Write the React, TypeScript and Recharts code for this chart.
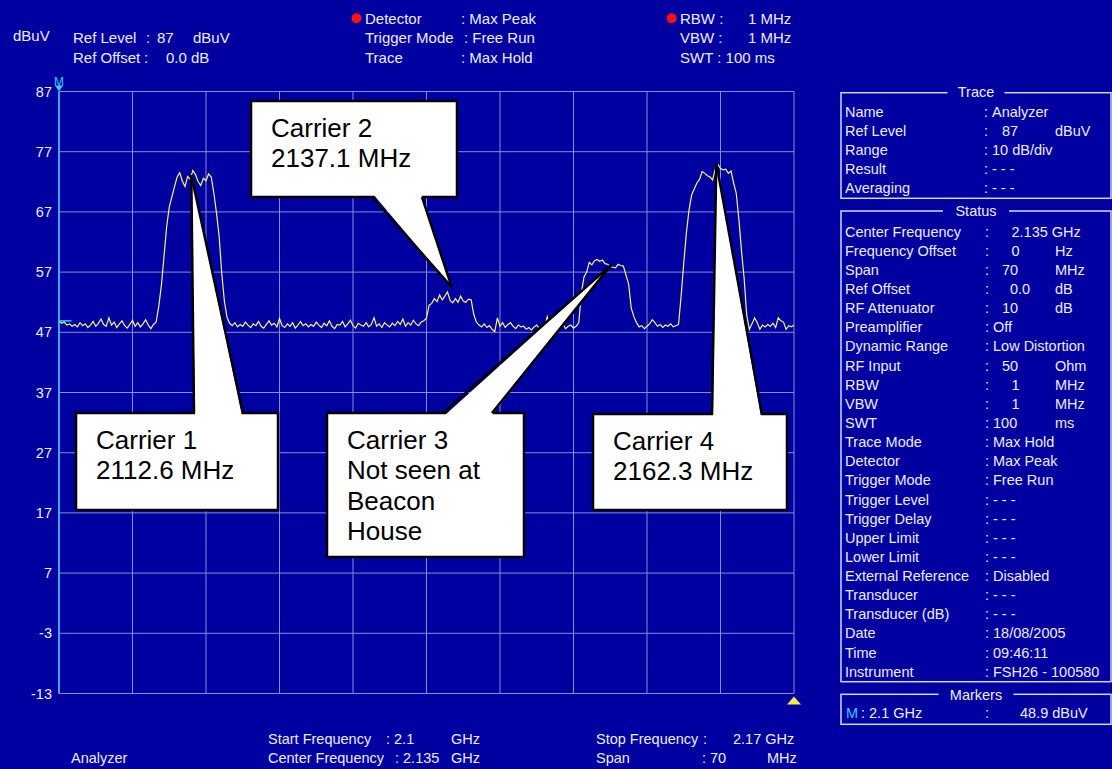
import React from "react";
import { LineChart, Line, XAxis, YAxis, CartesianGrid, ReferenceLine, ReferenceDot } from "recharts";

// Max-hold trace, 0.25 MHz per point from 2100 to 2170 MHz (dBuV)
const levelsDbuv = [
  48.9, 48.5, 48.7, 48.2, 48.4, 48.0, 48.3, 47.9, 48.6, 48.1,
  48.4, 47.8, 48.2, 48.8, 48.0, 48.5, 49.2, 48.3, 48.0, 49.4,
  48.2, 48.7, 47.8, 48.4, 48.9, 48.1, 47.7, 48.3, 49.0, 48.0,
  48.6, 47.9, 48.4, 49.1, 48.2, 47.6, 48.3,
  // carrier 1
  48.7, 51.3, 54.8, 59.6, 64.5, 67.8, 69.5, 71.2, 72.8, 73.5,
  72.1, 71.2, 72.9, 72.4, 73.9, 73.2, 72.0, 71.4, 72.6, 72.2,
  73.3, 72.8, 70.1, 66.8, 63.0, 56.8, 52.2, 49.5, 48.5, 48.1,
  // noise
  48.6, 47.9, 48.3, 48.0, 48.7, 48.2, 47.8, 48.4, 48.1, 48.8,
  48.0, 47.7, 48.3, 48.9, 48.2, 48.5, 47.9, 49.3, 48.1, 47.8,
  48.4, 48.0, 48.6, 47.7, 48.2, 48.8, 48.1, 48.4, 47.9, 48.3,
  48.0, 48.7, 48.2, 47.8, 48.5, 48.1, 48.9, 48.0, 47.6, 48.3,
  48.2, 48.8, 47.9, 48.4, 49.0, 48.1, 47.7, 48.5, 48.2, 48.0,
  48.6, 47.9, 48.3, 49.4, 48.0, 48.4, 47.8, 48.6, 48.2, 47.9,
  48.5, 48.1, 48.8, 48.3, 49.2, 48.0, 48.6, 48.2, 49.0, 48.4,
  48.1, 48.7, 48.9,
  // carrier 2
  49.4, 51.5, 51.8, 52.6, 52.1, 53.2, 52.4, 53.0, 53.7, 52.3,
  51.9, 52.6, 52.0, 53.0, 52.2, 52.0, 52.5, 52.4, 50.0, 48.7,
  // noise
  48.2, 47.9, 48.4, 47.8, 48.1, 47.5, 47.1, 49.4, 48.0, 48.6,
  47.8, 48.3, 48.6, 48.0, 47.6, 48.2, 47.9, 48.0, 47.5, 47.8,
  47.4, 47.9, 48.2, 47.6, 48.0, 47.7, 49.6, 48.1, 48.5, 47.9,
  48.4, 47.8, 48.3, 47.6, 48.0, 48.2, 47.7, 48.0,
  // carrier at 2152 MHz
  48.6, 53.5, 56.2, 57.0, 58.6, 58.2, 58.9, 59.1, 58.8, 59.0,
  58.4, 58.3, 57.9, 57.8, 57.7, 58.3, 58.1, 58.0, 56.5, 55.0,
  51.0, 49.6, 48.6, 47.9, 48.1, 47.6, 48.0, 48.4, 49.1,
  // noise
  48.6, 48.0, 48.3, 47.8, 48.2, 48.0, 48.4, 47.9, 48.1,
  // carrier 4
  48.3, 53.0, 58.5, 63.5, 67.3, 69.8, 70.8, 71.8, 72.4, 73.7,
  73.4, 73.0, 72.8, 72.3, 74.1, 74.9, 74.2, 74.0, 74.1, 73.4,
  73.8, 71.8, 70.1, 65.8, 60.5, 56.0, 49.8, 47.5,
  // noise
  48.4, 49.4, 48.6, 47.5, 48.2, 47.9, 48.3, 48.0, 48.5, 47.8,
  49.4, 48.9, 48.7, 47.5, 48.1, 47.9, 48.2,
];
const freqMHz = levelsDbuv.map((_, i) => 2100 + i * 0.25);
const data = freqMHz.map((f, i) => ({ f, v: levelsDbuv[i] }));

const yTicks = [87, 77, 67, 57, 47, 37, 27, 17, 7, -3, -13];
const xTicks = [2100, 2107, 2114, 2121, 2128, 2135, 2142, 2149, 2156, 2163, 2170];

// callouts: text + the point they point at (MHz, dBuV)
const calloutText = [
  ["Carrier 1", "2112.6 MHz"],
  ["Carrier 2", "2137.1 MHz"],
  ["Carrier 3", "Not seen at", "Beacon", "House"],
  ["Carrier 4", "2162.3 MHz"],
];
const calloutFreq = [2112.6, 2137.4, 2152.6, 2162.6];
const calloutLevel = [73.1, 54.5, 58.2, 75.1];

const traceRows = [
  ["Name", "Analyzer", ""],
  ["Ref Level", "87", "dBuV"],
  ["Range", "10 dB/div", ""],
  ["Result", "- - -", ""],
  ["Averaging", "- - -", ""],
];
const statusRows = [
  ["Center Frequency", "2.135 GHz", ""],
  ["Frequency Offset", "0", "Hz"],
  ["Span", "70", "MHz"],
  ["Ref Offset", "0.0", "dB"],
  ["RF Attenuator", "10", "dB"],
  ["Preamplifier", "Off", ""],
  ["Dynamic Range", "Low Distortion", ""],
  ["RF Input", "50", "Ohm"],
  ["RBW", "1", "MHz"],
  ["VBW", "1", "MHz"],
  ["SWT", "100", "ms"],
  ["Trace Mode", "Max Hold", ""],
  ["Detector", "Max Peak", ""],
  ["Trigger Mode", "Free Run", ""],
  ["Trigger Level", "- - -", ""],
  ["Trigger Delay", "- - -", ""],
  ["Upper Limit", "- - -", ""],
  ["Lower Limit", "- - -", ""],
  ["External Reference", "Disabled", ""],
  ["Transducer", "- - -", ""],
  ["Transducer (dB)", "- - -", ""],
  ["Date", "18/08/2005", ""],
  ["Time", "09:46:11", ""],
  ["Instrument", "FSH26 - 100580", ""],
];

const BG = "#0000A0";
const FG = "#ECECF6";
const GRID = "#8A8AD6";
const CYAN = "#38C8FF";
const FONT = "'Liberation Sans', Arial, sans-serif";

// box layout [x, y, w, h, wedgeLeft, wedgeRight, side]
const boxes: any[] = [
  [76, 413, 202, 97, 194, 243, "top"],
  [251, 101, 206, 96, 372, 422, "bottom"],
  [327, 413, 197, 144, 443, 492, "top"],
  [593, 414, 194, 96, 712, 762, "top"],
];

function Callout({ cx, cy, idx }: any) {
  const [x, y, w, h, b1, b2, side] = boxes[idx];
  const baseY = side === "top" ? y : y + h;
  const inner = side === "top" ? baseY + 3 : baseY - 3;
  return (
    <g>
      <rect x={x} y={y} width={w} height={h} fill="#fff" stroke="#000" strokeWidth={2.5} />
      <polygon points={`${b1 + 1},${inner} ${cx},${cy} ${b2 - 1},${inner}`} fill="#fff" />
      <line x1={b1} y1={baseY} x2={cx} y2={cy} stroke="#000" strokeWidth={2.5} />
      <line x1={b2} y1={baseY} x2={cx} y2={cy} stroke="#000" strokeWidth={2.5} />
      {calloutText[idx].map((t, i) => (
        <text key={i} x={x + 20} y={y + 36 + i * 30.4} fontSize={26} fontFamily={FONT} fill="#000">
          {t}
        </text>
      ))}
    </g>
  );
}

function Txt({ x, y, children, size = 14.5, fill = FG, anchor = "start" }: any) {
  return (
    <text x={x} y={y} fontSize={size} fontFamily={FONT} fill={fill} textAnchor={anchor}>
      {children}
    </text>
  );
}

function PanelBox({ y, h, title, titleY }: any) {
  return (
    <g>
      <rect x={841} y={y} width={270} height={h} fill="none" stroke="#D6D6F0" strokeWidth={1.5} />
      <rect x={976 - title.length * 4.5 - 6} y={y - 3} width={title.length * 9 + 12} height={6} fill={BG} />
      <Txt x={976} y={titleY} anchor="middle">{title}</Txt>
    </g>
  );
}

function Overlay() {
  return (
    <svg width={1112} height={769} style={{ position: "absolute", left: 0, top: 0, pointerEvents: "none" }}>
      {/* header */}
      <Txt x={13} y={41} size={15}>dBuV</Txt>
      <Txt x={73} y={43} size={15}>Ref Level</Txt>
      <Txt x={146} y={43} size={15}>:</Txt>
      <Txt x={157} y={43} size={15}>87</Txt>
      <Txt x={193} y={43} size={15}>dBuV</Txt>
      <Txt x={73} y={62.5} size={15}>Ref Offset</Txt>
      <Txt x={144} y={62.5} size={15}>:</Txt>
      <Txt x={166} y={62.5} size={15}>0.0 dB</Txt>
      <circle cx={356.5} cy={18.3} r={5} fill="#FF1010" />
      <Txt x={365} y={24} size={15}>Detector</Txt>
      <Txt x={365} y={43.3} size={15}>Trigger Mode</Txt>
      <Txt x={365} y={62.5} size={15}>Trace</Txt>
      <Txt x={461} y={24} size={15}>: Max Peak</Txt>
      <Txt x={464} y={43.3} size={15}>: Free Run</Txt>
      <Txt x={461} y={62.5} size={15}>: Max Hold</Txt>
      <circle cx={671.7} cy={18.3} r={5} fill="#FF1010" />
      <Txt x={680} y={24} size={15}>RBW :</Txt>
      <Txt x={680} y={43.3} size={15}>VBW :</Txt>
      <Txt x={680} y={62.5} size={15}>SWT : 100 ms</Txt>
      <Txt x={748} y={24} size={15}>1 MHz</Txt>
      <Txt x={748} y={43.3} size={15}>1 MHz</Txt>

      {/* trace panel */}
      <PanelBox y={92.7} h={105.6} title="Trace" titleY={97} />
      {traceRows.map((r, i) => {
        const y = 116.7 + i * 19.15;
        const num = r[2] !== "";
        return (
          <g key={r[0]}>
            <Txt x={845} y={y}>{r[0]}</Txt>
            <Txt x={984} y={y}>:</Txt>
            <Txt x={num ? 1002 : 992} y={y}>{r[1]}</Txt>
            {num && <Txt x={1055} y={y}>{r[2]}</Txt>}
          </g>
        );
      })}

      {/* status panel */}
      <PanelBox y={211} h={470.7} title="Status" titleY={216} />
      {statusRows.map((r, i) => {
        const y = 236.7 + i * 19.13;
        const num = r[2] !== "";
        let vx = 993;
        if (num) vx = r[1].length === 1 ? 1011.5 : r[1].length === 2 ? 1002 : r[1] === "0.0" ? 1010 : 993;
        if (r[1] === "2.135 GHz") vx = 1011.5;
        return (
          <g key={r[0]}>
            <Txt x={845} y={y}>{r[0]}</Txt>
            <Txt x={985} y={y}>:</Txt>
            <Txt x={vx} y={y}>{r[1]}</Txt>
            {num && <Txt x={1055} y={y}>{r[2]}</Txt>}
          </g>
        );
      })}

      {/* markers panel */}
      <PanelBox y={694.3} h={30} title="Markers" titleY={699.5} />
      <Txt x={846} y={718} fill={CYAN}>M</Txt>
      <Txt x={861} y={718}>: 2.1 GHz</Txt>
      <Txt x={985} y={718}>:</Txt>
      <Txt x={1020} y={718}>48.9 dBuV</Txt>

      {/* footer */}
      <Txt x={71} y={763}>Analyzer</Txt>
      <Txt x={268} y={744}>Start Frequency</Txt>
      <Txt x={386} y={744}>: 2.1</Txt>
      <Txt x={451} y={744}>GHz</Txt>
      <Txt x={268} y={763}>Center Frequency</Txt>
      <Txt x={395} y={763}>: 2.135</Txt>
      <Txt x={451} y={763}>GHz</Txt>
      <Txt x={596} y={744}>Stop Frequency</Txt>
      <Txt x={703} y={744}>:</Txt>
      <Txt x={733} y={744}>2.17 GHz</Txt>
      <Txt x={596} y={763}>Span</Txt>
      <Txt x={702} y={763}>: 70</Txt>
      <Txt x={767} y={763}>MHz</Txt>
    </svg>
  );
}

export default function App() {
  return (
    <div style={{ position: "absolute", left: 0, top: 0, width: 1112, height: 769, background: BG, overflow: "hidden" }}>
      <LineChart
        width={1112}
        height={769}
        data={data}
        margin={{ top: 91.5, right: 318, bottom: 75.5, left: 0 }}
      >
        <CartesianGrid stroke={GRID} strokeWidth={1} />
        <XAxis dataKey="f" type="number" domain={[2100, 2170]} ticks={xTicks} hide />
        <YAxis
          type="number"
          domain={[-13, 87]}
          ticks={yTicks}
          width={59}
          axisLine={false}
          tickLine={false}
          tickSize={6}
          tickMargin={1}
          tick={{ fill: FG, fontSize: 14.5, fontFamily: FONT }}
        />
        <Line type="linear" dataKey="v" stroke="#F4F47C" strokeWidth={1.2} dot={false} isAnimationActive={false} />
        <ReferenceLine x={2100} stroke={CYAN} strokeWidth={1.5} />
        <ReferenceLine segment={[{ x: 2100, y: 48.9 }, { x: 2101.2, y: 48.9 }]} stroke={CYAN} strokeWidth={1.5} />
        <ReferenceDot
          x={2100}
          y={87}
          shape={(p: any) => (
            <g>
              <polygon points={`${p.cx - 4},${p.cy - 6} ${p.cx + 4},${p.cy - 6} ${p.cx},${p.cy}`} fill={CYAN} />
              <text x={p.cx} y={p.cy - 6} fontSize={12} fontFamily={FONT} fill={CYAN} textAnchor="middle">M</text>
            </g>
          )}
        />
        <ReferenceDot
          x={2170}
          y={-13}
          shape={(p: any) => (
            <polygon points={`${p.cx - 7},${p.cy + 11} ${p.cx + 7},${p.cy + 11} ${p.cx},${p.cy + 3}`} fill="#F4E848" />
          )}
        />
        {calloutFreq.map((f, i) => (
          <ReferenceDot key={i} x={f} y={calloutLevel[i]} shape={(p: any) => <Callout cx={p.cx} cy={p.cy} idx={i} />} />
        ))}
      </LineChart>
      <Overlay />
    </div>
  );
}
